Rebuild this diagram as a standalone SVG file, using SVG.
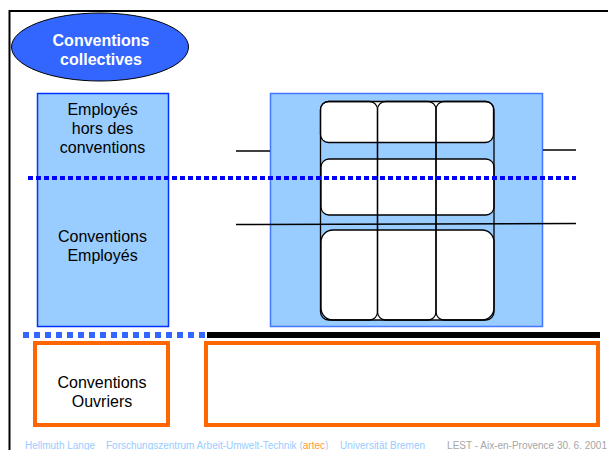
<svg xmlns="http://www.w3.org/2000/svg" width="608" height="450" viewBox="0 0 608 450">
<style>
.t{font-family:"Liberation Sans",Arial,sans-serif;font-size:16px;fill:#000;text-anchor:middle}
.tb{font-family:"Liberation Sans",Arial,sans-serif;font-size:16px;font-weight:bold;fill:#fff;text-anchor:middle}
.f{font-family:"Liberation Sans",Arial,sans-serif;font-size:10px}
.blue{fill:#99CCFF}
.row{fill:#fff;stroke:#000;stroke-width:1.3}
.col{fill:none;stroke:#000;stroke-width:1.3}
.orange{fill:#fff;stroke:#FF6600;stroke-width:4}
</style>
<rect width="608" height="450" fill="#fff"/>
<g id="frame">
<path d="M9.5 450V11H608" fill="none" stroke="#000" stroke-width="2"/>
</g>
<g id="ellipse">
<ellipse cx="100" cy="47" rx="88.5" ry="34" fill="#3366FF" stroke="#000" stroke-width="1"/>
<text class="tb" x="101" y="46">Conventions</text>
<text class="tb" x="101" y="65">collectives</text>
</g>
<g id="left-box">
<rect x="37.5" y="93.5" width="131" height="233" class="blue" stroke="#0033FF" stroke-width="1.5"/>
<text class="t" x="102.5" y="115">Employés</text>
<text class="t" x="102.5" y="134">hors des</text>
<text class="t" x="102.5" y="153">conventions</text>
<text class="t" x="102.5" y="242">Conventions</text>
<text class="t" x="102.5" y="261">Employés</text>
</g>
<g id="right-box">
<rect x="270.5" y="93.5" width="272" height="233" class="blue" stroke="#4477FF" stroke-width="1.5"/>
<rect class="row" x="320.5" y="101.5" width="173" height="41" rx="8"/>
<rect class="row" x="321" y="159" width="173" height="56" rx="8"/>
<rect class="row" x="321" y="230" width="173" height="90" rx="12"/>
<rect class="col" x="320.5" y="101.5" width="57" height="218.5" rx="8"/>
<rect class="col" x="377.5" y="101.5" width="58.5" height="218.5" rx="8"/>
<rect class="col" x="436" y="101.5" width="58" height="218.5" rx="8"/>
</g>
<g id="connectors">
<line x1="236" y1="151" x2="270" y2="151" stroke="#000" stroke-width="1.5"/>
<line x1="543" y1="150" x2="576" y2="150" stroke="#000" stroke-width="1.5"/>
<line x1="236" y1="224.5" x2="576" y2="223.5" stroke="#000" stroke-width="1.5"/>
<line x1="28" y1="178" x2="576" y2="178" stroke="#0000FF" stroke-width="4" stroke-dasharray="5 3"/>
<line x1="23" y1="335" x2="207" y2="335" stroke="#3366FF" stroke-width="6" stroke-dasharray="6 5"/>
<line x1="207" y1="335" x2="600" y2="335" stroke="#000" stroke-width="6"/>
</g>
<g id="bottom-left">
<rect class="orange" x="35" y="343" width="133" height="82"/>
<text class="t" x="102" y="388">Conventions</text>
<text class="t" x="102" y="407">Ouvriers</text>
</g>
<g id="bottom-right">
<rect class="orange" x="206" y="343" width="392" height="82"/>
</g>
<g id="footer">
<text class="f" x="25" y="449" fill="#99CCFF">Hellmuth Lange</text>
<text class="f" x="106" y="449" fill="#99CCFF">Forschungszentrum Arbeit-Umwelt-Technik (<tspan fill="#FF9933">artec</tspan>)</text>
<text class="f" x="340" y="449" fill="#99CCFF">Universität Bremen</text>
<text class="f" x="607" y="449" fill="#A6A6A6" text-anchor="end">LEST - Aix-en-Provence 30. 6. 2001</text>
</g>
</svg>
